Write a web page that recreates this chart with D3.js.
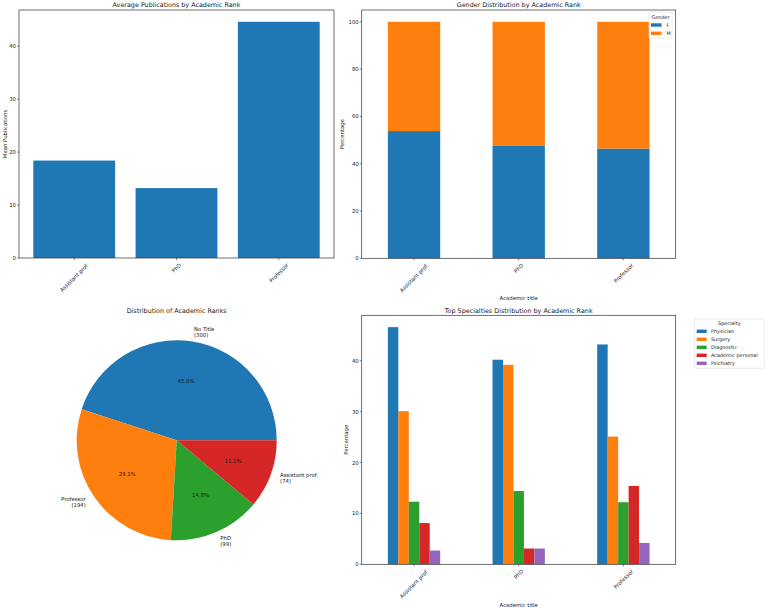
<!DOCTYPE html>
<html><head><meta charset="utf-8">
<script src="https://cdn.jsdelivr.net/npm/d3@7"></script>
<style>
body{margin:0;background:#fff;}
text{font-family:"DejaVu Sans",sans-serif;fill:#1a1a1a;}
</style></head>
<body><svg id="c" width="770" height="608"></svg>
<script>
// ---- data ----
const ranks = ["Assistant prof.", "PhD", "Professor"];
const meanPublications = [18.4, 13.2, 44.6];
const genders = ["F", "M"];
const genderF = [53.8, 47.5, 46.4];
const genderM = [46.2, 52.5, 53.6];
const pieLabels = ["No Title", "Professor", "PhD", "Assistant prof."];
const pieCounts = [300, 194, 99, 74];
const specialties = ["Physician", "Surgery", "Diagnostic", "Academic personal", "Psichiatry"];
const specPhysician = [46.6, 40.2, 43.2];
const specSurgery = [30.1, 39.2, 25.1];
const specDiagnostic = [12.3, 14.4, 12.2];
const specAcademic = [8.1, 3.1, 15.4];
const specPsichiatry = [2.7, 3.1, 4.2];
const yTicks1 = [0, 10, 20, 30, 40];
const yTicks2 = [0, 20, 40, 60, 80, 100];
const yTicks4 = [0, 10, 20, 30, 40];

const C = ["#1f77b4", "#ff7f0e", "#2ca02c", "#d62728", "#9467bd"];
const FT = 6.4, FS = 5.35;
const svg = d3.select("#c");

function frame(g, L, R, T, B) {
  g.append("rect").attr("x", L).attr("y", T).attr("width", R - L).attr("height", B - T)
    .attr("fill", "none").attr("stroke", "#333").attr("stroke-width", 0.7);
}
function yAxis(L, y, ticks) {
  const g = svg.append("g");
  ticks.forEach(t => {
    g.append("line").attr("x1", L - 2).attr("x2", L).attr("y1", y(t)).attr("y2", y(t)).attr("stroke", "#333").attr("stroke-width", 0.6);
    g.append("text").attr("x", L - 3).attr("y", y(t)).attr("text-anchor", "end").attr("dominant-baseline", "central")
      .attr("font-size", FS).text(t);
  });
}
function xAxisRot(B, xc, cats) {
  const g = svg.append("g");
  cats.forEach(c => {
    const cx = xc(c);
    g.append("line").attr("x1", cx).attr("x2", cx).attr("y1", B).attr("y2", B + 2).attr("stroke", "#333").attr("stroke-width", 0.6);
    const t = g.append("text").attr("font-size", FS).attr("text-anchor", "middle").attr("dominant-baseline", "central").text(c);
    const len = t.node().getComputedTextLength();
    const h = FS * 1.1;
    const cy = B + 4 + (len + h) * 0.3536;
    t.attr("transform", `translate(${cx},${cy}) rotate(-45)`);
  });
}
function title(x, y, s) {
  svg.append("text").attr("x", x).attr("y", y).attr("text-anchor", "middle").attr("dominant-baseline", "central").attr("font-size", FT).text(s);
}
function ylabel(x, y, s) {
  svg.append("text").attr("transform", `translate(${x},${y}) rotate(-90)`).attr("text-anchor", "middle")
    .attr("dominant-baseline", "central").attr("font-size", FS).text(s);
}
function xlabel(x, y, s) {
  svg.append("text").attr("x", x).attr("y", y).attr("text-anchor", "middle").attr("dominant-baseline", "central").attr("font-size", FS).text(s);
}

// ---- chart 1: average publications ----
{
  const L = 19, R = 334, T = 10, B = 258;
  const x = d3.scaleBand().domain(ranks).range([L, R]).paddingInner(0.2).paddingOuter(0.14);
  const y = d3.scaleLinear().domain([0, d3.max(meanPublications) * 1.05]).range([B, T]);
  svg.append("g").selectAll("rect").data(ranks).join("rect")
    .attr("x", d => x(d)).attr("width", x.bandwidth())
    .attr("y", (d, i) => y(meanPublications[i])).attr("height", (d, i) => B - y(meanPublications[i]))
    .attr("fill", C[0]);
  frame(svg, L, R, T, B);
  yAxis(L, y, yTicks1);
  xAxisRot(B, d => x(d) + x.bandwidth() / 2, ranks);
  title((L + R) / 2, 4.5, "Average Publications by Academic Rank");
  ylabel(5, (T + B) / 2, "Mean Publications");
}

// ---- chart 2: gender stacked ----
{
  const L = 361.7, R = 675.7, T = 10, B = 258.3;
  const x = d3.scaleBand().domain(ranks).range([L, R]).paddingInner(0.5).paddingOuter(0.25);
  const y = d3.scaleLinear().domain([0, 105]).range([B, T]);
  const rows = ranks.map((r, i) => ({ rank: r, F: genderF[i], M: genderM[i] }));
  const stack = d3.stack().keys(genders)(rows);
  svg.append("g").selectAll("g").data(stack).join("g").attr("fill", (d, i) => C[i])
    .selectAll("rect").data(d => d).join("rect")
    .attr("x", d => x(d.data.rank)).attr("width", x.bandwidth())
    .attr("y", d => y(d[1])).attr("height", d => y(d[0]) - y(d[1]));
  frame(svg, L, R, T, B);
  yAxis(L, y, yTicks2);
  xAxisRot(B, d => x(d) + x.bandwidth() / 2, ranks);
  title((L + R) / 2, 4.5, "Gender Distribution by Academic Rank");
  ylabel(342.3, (T + B) / 2, "Percentage");
  xlabel((L + R) / 2, 298, "Academic title");
  // legend
  const lg = svg.append("g");
  lg.append("rect").attr("x", 649).attr("y", 12).attr("width", 23).attr("height", 26).attr("rx", 1)
    .attr("fill", "#fff").attr("fill-opacity", 0.85).attr("stroke", "#ddd").attr("stroke-width", 0.6);
  lg.append("text").attr("x", 660.5).attr("y", 16.8).attr("text-anchor", "middle").attr("dominant-baseline", "central").attr("font-size", FS * 0.92).text("Gender");
  genders.forEach((gd, i) => {
    const yy = 25 + i * 8.3;
    lg.append("rect").attr("x", 651).attr("y", yy - 1.7).attr("width", 10.5).attr("height", 3.4).attr("fill", C[i]);
    lg.append("text").attr("x", 666.5).attr("y", yy).attr("dominant-baseline", "central").attr("font-size", FS * 0.92).text(gd);
  });
}

// ---- chart 3: pie ----
{
  const cx = 176.7, cy = 440.3, r = 100;
  const total = d3.sum(pieCounts);
  const pie = d3.pie().sort(null).startAngle(Math.PI / 2).endAngle(Math.PI / 2 - 2 * Math.PI);
  const arcs = pie(pieCounts);
  const arc = d3.arc().innerRadius(0).outerRadius(r);
  const g = svg.append("g").attr("transform", `translate(${cx},${cy})`);
  g.selectAll("path").data(arcs).join("path").attr("d", arc).attr("fill", (d, i) => C[i]);
  arcs.forEach((a, i) => {
    const m = (a.startAngle + a.endAngle) / 2;
    const sx = Math.sin(m), sy = -Math.cos(m);
    // percentage
    g.append("text").attr("x", sx * r * 0.6).attr("y", sy * r * 0.6).attr("text-anchor", "middle")
      .attr("dominant-baseline", "central").attr("font-size", FS)
      .text((pieCounts[i] / total * 100).toFixed(1) + "%");
    // outer label
    const lx = sx * r * 1.1, ly = sy * r * 1.1;
    const t = g.append("text").attr("font-size", FS).attr("text-anchor", lx > 0 ? "start" : "end");
    const lh = FS * 1.15;
    t.append("tspan").attr("x", lx).attr("y", ly - lh / 2).attr("dominant-baseline", "central").text(pieLabels[i]);
    t.append("tspan").attr("x", lx).attr("y", ly + lh / 2).attr("dominant-baseline", "central").text(`(${pieCounts[i]})`);
  });
  title(cx, 310.7, "Distribution of Academic Ranks");
}

// ---- chart 4: specialties grouped ----
{
  const L = 361.7, R = 675.7, T = 315.3, B = 564.3;
  const series = [specPhysician, specSurgery, specDiagnostic, specAcademic, specPsichiatry];
  const x0 = d3.scaleBand().domain(ranks).range([L, R]).paddingInner(0.5).paddingOuter(0.25);
  const x1 = d3.scaleBand().domain(specialties).range([0, x0.bandwidth()]);
  const y = d3.scaleLinear().domain([0, d3.max(series.flat()) * 1.05]).range([B, T]);
  const g = svg.append("g");
  ranks.forEach((rk, ri) => {
    specialties.forEach((sp, si) => {
      const v = series[si][ri];
      g.append("rect").attr("x", x0(rk) + x1(sp)).attr("width", x1.bandwidth())
        .attr("y", y(v)).attr("height", B - y(v)).attr("fill", C[si]);
    });
  });
  frame(svg, L, R, T, B);
  yAxis(L, y, yTicks4);
  xAxisRot(B, d => x0(d) + x0.bandwidth() / 2, ranks);
  title((L + R) / 2, 310.7, "Top Specialties Distribution by Academic Rank");
  ylabel(346, (T + B) / 2, "Percentage");
  xlabel((L + R) / 2, 604.5, "Academic title");
  const lg = svg.append("g");
  lg.append("rect").attr("x", 694.3).attr("y", 319).attr("width", 70).attr("height", 49.3).attr("rx", 1)
    .attr("fill", "#fff").attr("stroke", "#ddd").attr("stroke-width", 0.6);
  lg.append("text").attr("x", 729.3).attr("y", 323.4).attr("text-anchor", "middle").attr("dominant-baseline", "central").attr("font-size", FS * 0.92).text("Specialty");
  specialties.forEach((sp, i) => {
    const yy = 331.3 + i * 8;
    lg.append("rect").attr("x", 696.7).attr("y", yy - 1.7).attr("width", 10).attr("height", 3.4).attr("fill", C[i]);
    lg.append("text").attr("x", 711).attr("y", yy).attr("dominant-baseline", "central").attr("font-size", FS * 0.92).text(sp);
  });
}
</script></body></html>
